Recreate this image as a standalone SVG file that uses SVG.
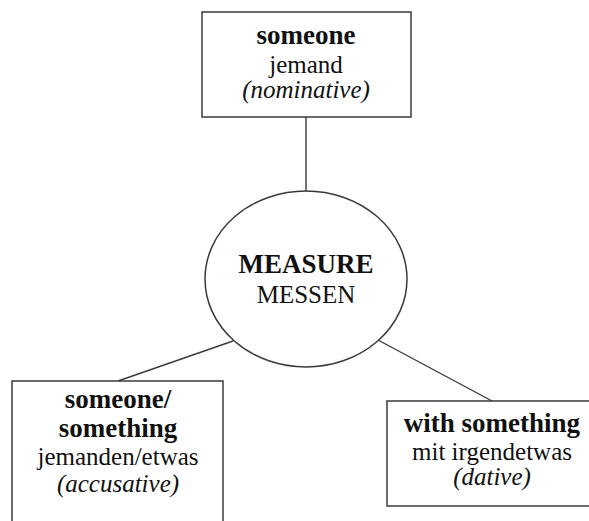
<svg xmlns="http://www.w3.org/2000/svg" width="589" height="521" viewBox="0 0 589 521">
  <style>
    .box { fill: #ffffff; stroke: #3a3a3a; stroke-width: 1.5; }
    .edge { stroke: #3a3a3a; stroke-width: 1.4; fill: none; }
    text { font-family: "Liberation Serif", "Times New Roman", serif; font-size: 25px; fill: #111111; text-anchor: middle; }
    .b { font-weight: bold; font-size: 27px; }
    .i { font-style: italic; }
  </style>
  <rect width="589" height="521" fill="#ffffff"/>

  <g id="connectors">
    <line class="edge" x1="306" y1="117" x2="306" y2="191"/>
    <line class="edge" x1="118" y1="381" x2="233" y2="341"/>
    <line class="edge" x1="378" y1="340" x2="492" y2="401"/>
  </g>

  <g id="node-subject">
    <rect class="box" x="202" y="12" width="209" height="105"/>
    <text class="b" x="306" y="44">someone</text>
    <text x="306" y="73">jemand</text>
    <text class="i" x="306" y="98">(nominative)</text>
  </g>

  <g id="node-verb">
    <ellipse class="box" cx="306" cy="279" rx="101" ry="88"/>
    <text class="b" x="306" y="273">MEASURE</text>
    <text x="306" y="303">MESSEN</text>
  </g>

  <g id="node-object">
    <rect class="box" x="12" y="381" width="211" height="160"/>
    <text class="b" x="118" y="408">someone/</text>
    <text class="b" x="118" y="437">something</text>
    <text x="118" y="465">jemanden/etwas</text>
    <text class="i" x="118" y="492">(accusative)</text>
  </g>

  <g id="node-instrument">
    <rect class="box" x="387" y="401" width="210" height="105"/>
    <text class="b" x="492" y="432">with something</text>
    <text x="492" y="460">mit irgendetwas</text>
    <text class="i" x="492" y="485">(dative)</text>
  </g>
</svg>
